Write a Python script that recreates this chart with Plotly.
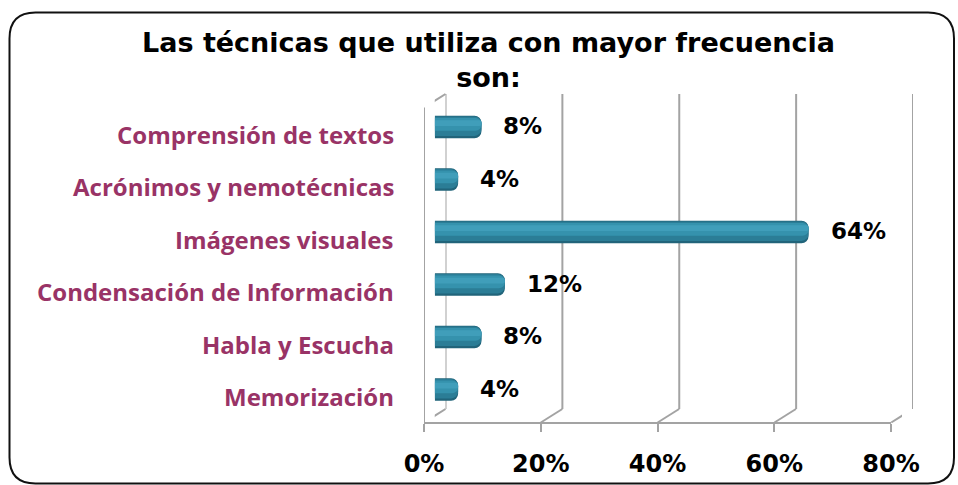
import plotly.graph_objects as go

# ---------------- data ----------------
categories = [
    "Comprensión de textos",
    "Acrónimos y nemotécnicas",
    "Imágenes visuales",
    "Condensación de Información",
    "Habla y Escucha",
    "Memorización",
]
values = [8, 4, 64, 12, 8, 4]
value_labels = ["8%", "4%", "64%", "12%", "8%", "4%"]
tick_values = [0, 20, 40, 60, 80]
tick_labels = ["0%", "20%", "40%", "60%", "80%"]
title_text = "Las técnicas que utiliza con mayor frecuencia<br>son:"

# ---------------- geometry helpers (layout only) ----------------
W, H = 958, 485
def px(x):
    return x / W
def py(y):
    return 1 - y / H

cats_bt = categories[::-1]
vals_bt = values[::-1]

GRID = "#A3A3A3"
LABEL_COLOR = "#993366"
NUM_FONT = "DejaVu Sans"

fig = go.Figure()

# cylinder-like bars: stacked shading layers
layers = [
    (-0.215, 0.43, "#21647A"),
    (-0.17, 0.37, "#2B7D96"),
    (-0.07, 0.24, "#3592AD"),
    (0.02, 0.11, "#409EBA"),
]
for off, wid, col in layers:
    fig.add_trace(go.Bar(
        x=vals_bt, y=cats_bt, orientation="h",
        offset=off, width=wid,
        marker=dict(color=col, line=dict(width=0), cornerradius=7),
        hoverinfo="skip", showlegend=False,
        xaxis="x", yaxis="y",
    ))

# value labels
for c, v, t in zip(categories, values, value_labels):
    fig.add_annotation(
        x=v, y=c, xref="x", yref="y", text="<b>" + t + "</b>", showarrow=False,
        xanchor="left", xshift=20, yshift=1,
        font=dict(family=NUM_FONT, size=23, color="#000000"),
    )

# category labels (front plane, slightly lower)
for c in categories:
    fig.add_annotation(
        x=px(396), y=c, xref="paper", yref="y", text=c,
        showarrow=False, xanchor="right", yshift=-7,
        font=dict(family="Open Sans", size=24, color=LABEL_COLOR, weight=700),
    )

# title
fig.add_annotation(
    x=px(488), y=py(60), xref="paper", yref="paper",
    text="<b>" + title_text + "</b>", showarrow=False,
    xanchor="center", yanchor="middle", align="center",
    font=dict(family=NUM_FONT, size=27, color="#000000"),
)

shapes = []
# back wall gridlines
for v in tick_values:
    shapes.append(dict(type="line", xref="x3", yref="paper", layer="below",
                       x0=v, x1=v, y0=py(409), y1=py(94),
                       line=dict(color=GRID, width=2)))
# floor diagonals
for v in tick_values:
    shapes.append(dict(type="line", xref="x", yref="paper", layer="below",
                       xsizemode="pixel", xanchor=v, x0=-10.75, x1=10.75,
                       y0=py(422.5), y1=py(409),
                       line=dict(color=GRID, width=2)))
# left wall: top diagonal and front vertical
shapes.append(dict(type="line", xref="x", yref="paper", layer="below",
                   xsizemode="pixel", xanchor=0, x0=-10.75, x1=10.75,
                   y0=py(107.5), y1=py(94),
                   line=dict(color=GRID, width=2)))
shapes.append(dict(type="line", xref="x2", yref="paper", layer="below",
                   x0=0, x1=0, y0=py(422.5), y1=py(107.5),
                   line=dict(color=GRID, width=2)))
# floor front line extension to the left
shapes.append(dict(type="line", xref="x2", yref="paper", layer="below",
                   xsizemode="pixel", xanchor=0, x0=-10, x1=0,
                   y0=py(422.5), y1=py(422.5),
                   line=dict(color=GRID, width=2)))
# rounded outer border
L, T, R, B, r = 9.5, 12.5, 954, 483.5, 26
path = (f"M {px(L+r)},{py(T)} L {px(R-r)},{py(T)} Q {px(R)},{py(T)} {px(R)},{py(T+r)} "
        f"L {px(R)},{py(B-r)} Q {px(R)},{py(B)} {px(R-r)},{py(B)} "
        f"L {px(L+r)},{py(B)} Q {px(L)},{py(B)} {px(L)},{py(B-r)} "
        f"L {px(L)},{py(T+r)} Q {px(L)},{py(T)} {px(L+r)},{py(T)} Z")
shapes.append(dict(type="path", xref="paper", yref="paper", path=path,
                   line=dict(color="#111111", width=2), layer="above"))

fig.update_layout(
    width=W, height=H,
    margin=dict(l=0, r=0, t=0, b=0, autoexpand=False),
    paper_bgcolor="white", plot_bgcolor="rgba(0,0,0,0)",
    barmode="overlay",
    shapes=shapes,
    xaxis=dict(domain=[px(434.75), px(902)], range=[0, 80], visible=False,
               anchor="y", automargin=False),
    yaxis=dict(domain=[py(415.75), py(100.75)], range=[-0.5, 5.5],
               type="category", categoryorder="array", categoryarray=cats_bt,
               visible=False, anchor="x", automargin=False),
    xaxis2=dict(domain=[px(424), px(891)], range=[0, 80],
                anchor="free", position=py(422.5), automargin=False,
                tickmode="array", tickvals=tick_values, ticktext=tick_labels,
                showgrid=False, zeroline=False,
                showline=True, linecolor=GRID, linewidth=2,
                ticks="outside", ticklen=8, tickwidth=2, tickcolor=GRID,
                ticklabelstandoff=12,
                tickfont=dict(family=NUM_FONT, size=24, color="#000000",
                              weight="bold")),
    xaxis3=dict(domain=[px(445.5), px(913)], range=[0, 80], visible=False,
                anchor="y", automargin=False),
)

# dummy traces to activate xaxis2 / xaxis3
fig.add_trace(go.Scatter(x=[0, 80], y=[None, None], xaxis="x2", yaxis="y",
                         mode="markers", showlegend=False, hoverinfo="skip"))
fig.add_trace(go.Scatter(x=[0, 80], y=[None, None], xaxis="x3", yaxis="y",
                         mode="markers", showlegend=False, hoverinfo="skip"))

fig.write_html("out.html",
               config={"displayModeBar": False},
               post_script="document.body.style.margin='0px';document.body.style.overflow='hidden';")
